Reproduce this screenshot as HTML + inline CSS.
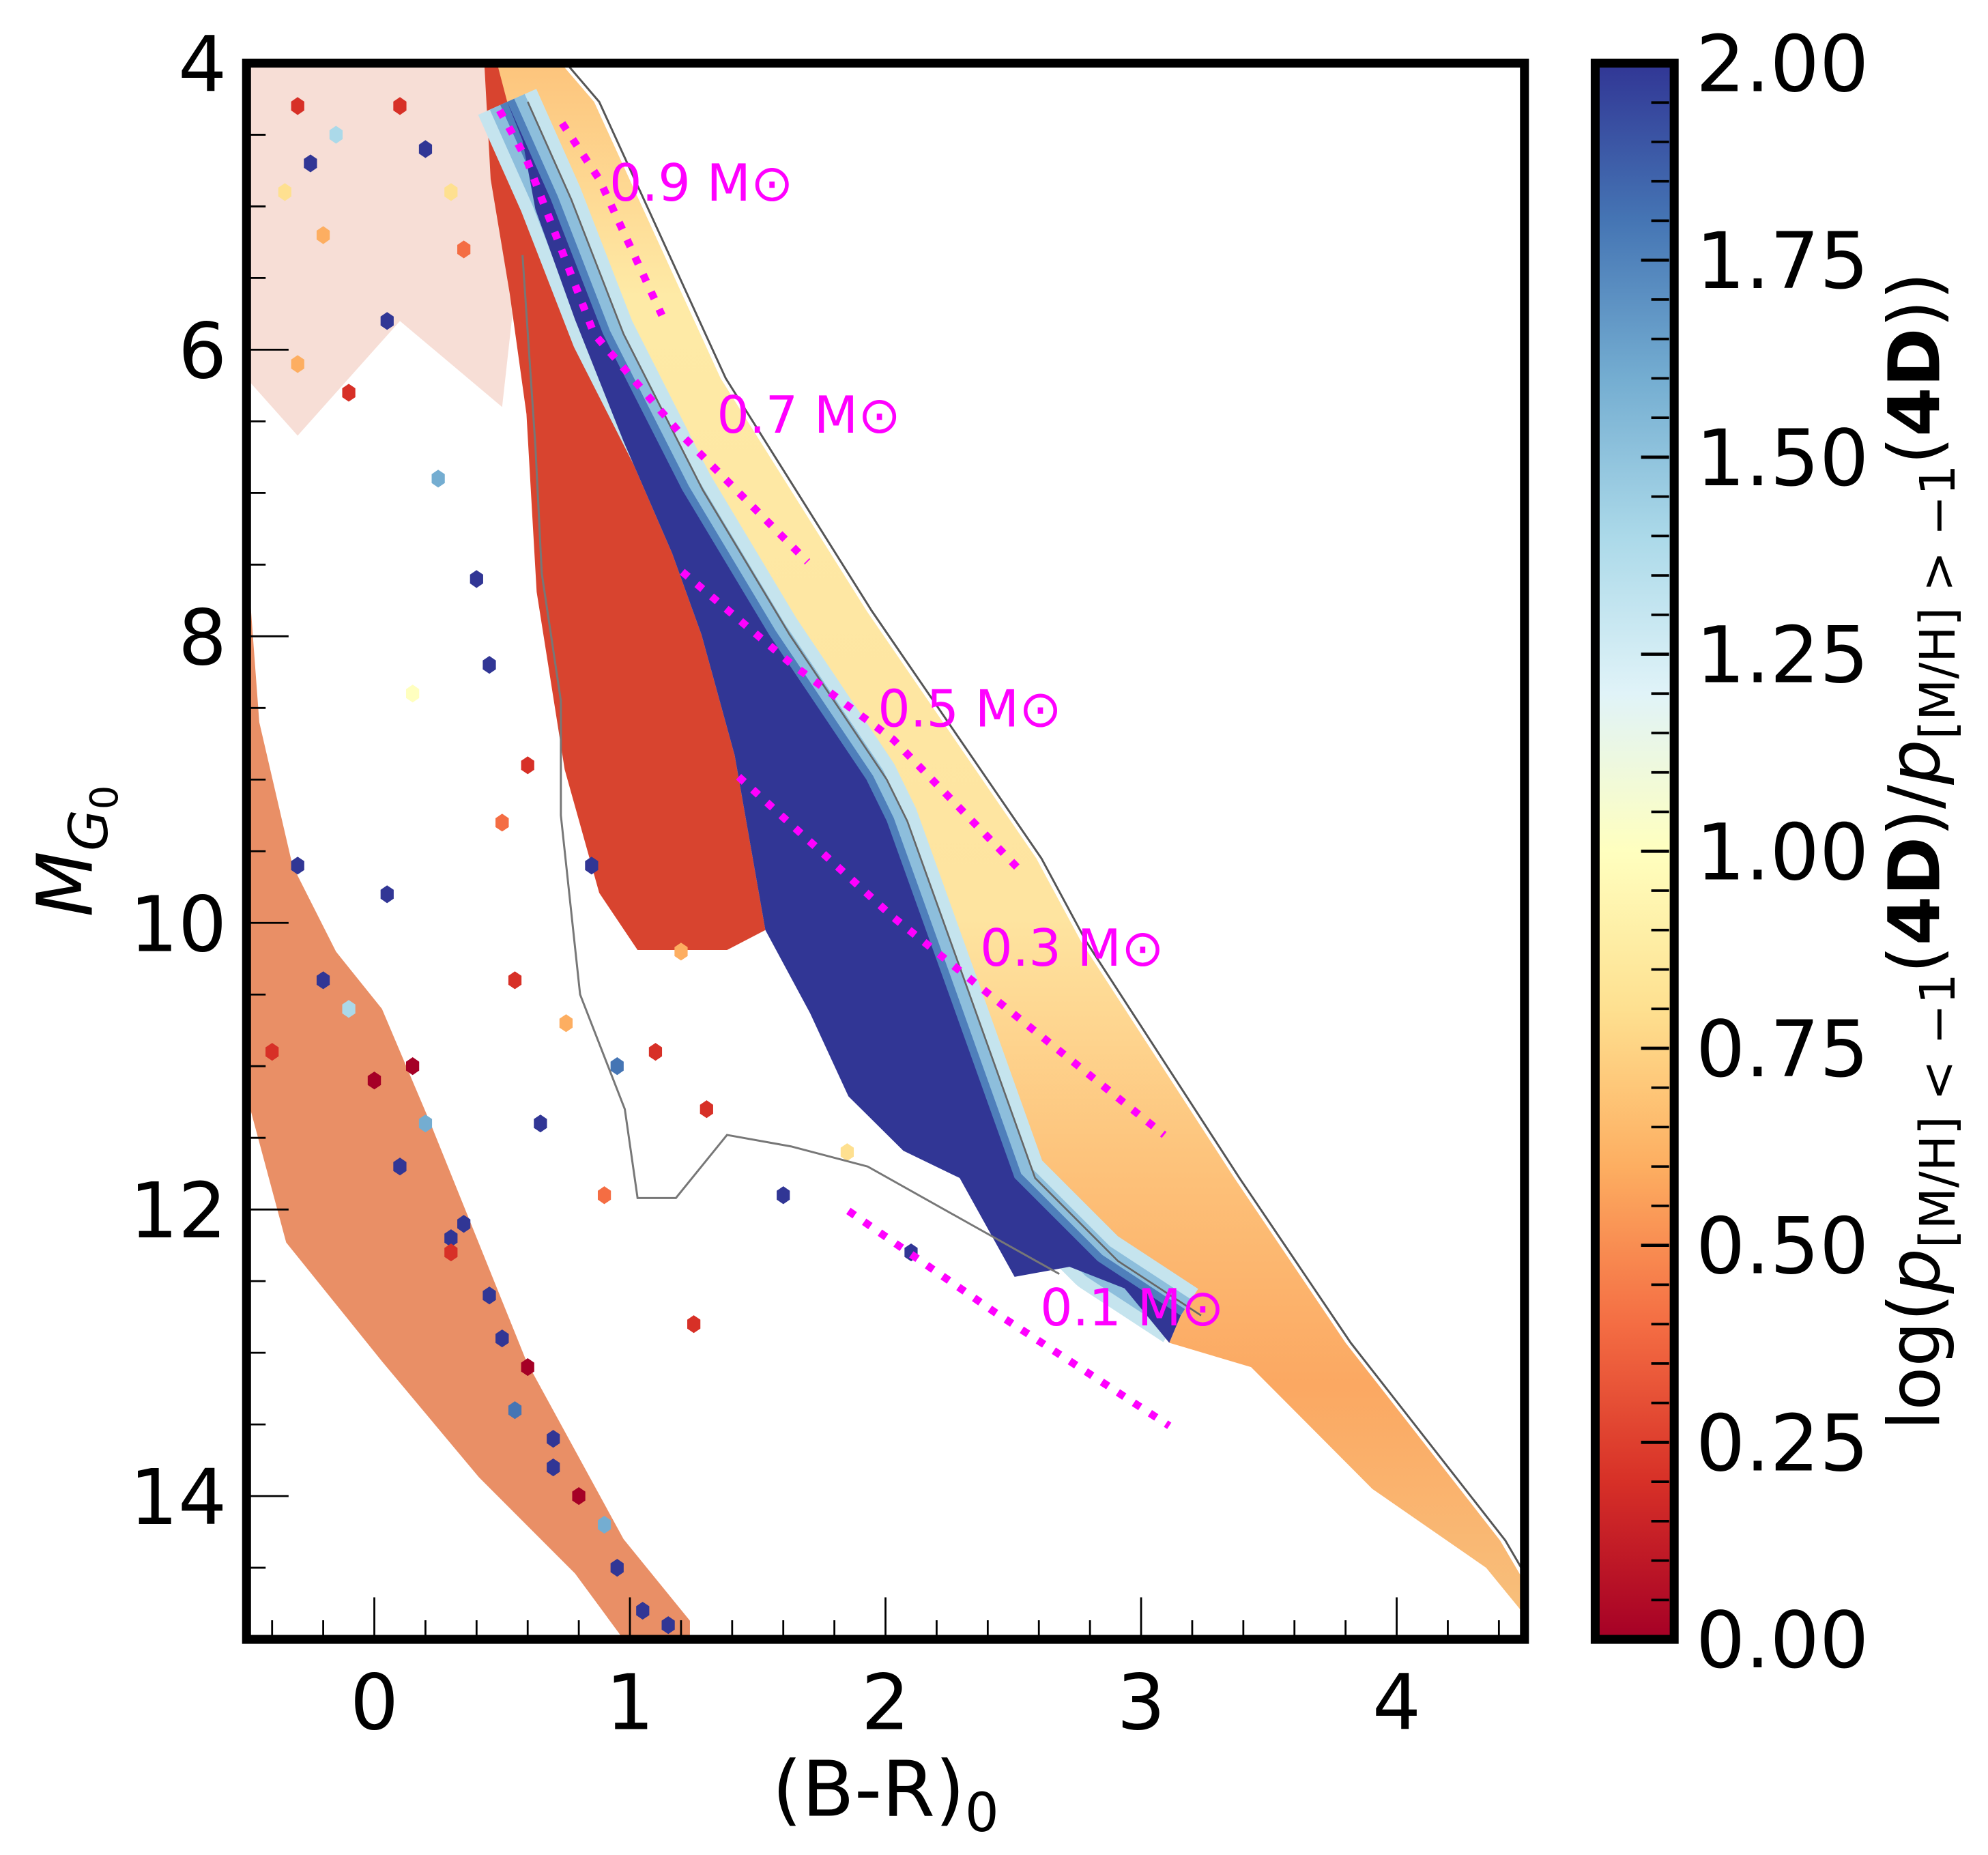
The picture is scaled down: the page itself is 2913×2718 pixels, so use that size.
<!DOCTYPE html>
<html><head><meta charset="utf-8"><style>
html,body{margin:0;padding:0;background:#fff}
svg{display:block}
text{font-family:"DejaVu Sans","Liberation Sans",sans-serif}
</style></head><body>
<svg id="chart" xmlns="http://www.w3.org/2000/svg" width="2913" height="2718" viewBox="0 0 1560.3 1455.8">
<defs>
<linearGradient id="cbgrad" x1="0" y1="1" x2="0" y2="0">
<stop offset="0" stop-color="#a50026"/><stop offset="0.1" stop-color="#d73027"/><stop offset="0.2" stop-color="#f46d43"/><stop offset="0.3" stop-color="#fdae61"/><stop offset="0.4" stop-color="#fee090"/><stop offset="0.5" stop-color="#ffffbf"/><stop offset="0.6" stop-color="#e0f3f8"/><stop offset="0.7" stop-color="#abd9e9"/><stop offset="0.8" stop-color="#74add1"/><stop offset="0.9" stop-color="#4575b4"/><stop offset="1" stop-color="#313695"/>
</linearGradient>
<linearGradient id="msgrad" x1="0" y1="0" x2="0" y2="1">
<stop offset="0" stop-color="#fdc47c"/><stop offset="0.15" stop-color="#feeaa6"/><stop offset="0.55" stop-color="#fee4a0"/><stop offset="0.72" stop-color="#fdc078"/><stop offset="0.85" stop-color="#fba862"/><stop offset="1" stop-color="#f8c07c"/>
</linearGradient>
<clipPath id="plotclip"><rect x="193.5" y="49.5" width="1003" height="1237"/></clipPath>
</defs>
<g id="plot" clip-path="url(#plotclip)"></g>
<g id="axes"></g>
<g id="cbar"></g>
<text x="695" y="1425" font-size="60" text-anchor="middle">(B-R)<tspan font-size="42" dy="12">0</tspan></text>
<text transform="translate(72,668) rotate(-90)" font-size="60" text-anchor="middle" font-style="italic">M<tspan font-size="42" dy="12">G</tspan><tspan font-size="30" dy="8" font-style="normal">0</tspan></text>
<text transform="translate(1522,668) rotate(-90)" font-size="56" text-anchor="middle">log(<tspan font-style="italic">p</tspan><tspan font-size="38" dy="12">[M/H] &lt; −1</tspan><tspan dy="-12">(</tspan><tspan font-weight="bold">4D</tspan>)/<tspan font-style="italic">p</tspan><tspan font-size="38" dy="12">[M/H] &gt; −1</tspan><tspan dy="-12">(</tspan><tspan font-weight="bold">4D</tspan>))</text>
</svg>
<script>
// ---- data (color (B-R)0, magnitude M_G0) ----
const msEnvelope = [[0.73,4.0],[0.86,4.27],[1.355,6.2],[1.925,7.82],[2.59,9.55],[2.765,10.13],[3.365,11.78],[3.8,12.93],[4.405,14.31],[4.51,14.63],[4.51,14.85],[4.35,14.5],[3.905,13.95],[3.43,13.1],[3.11,12.93],[3.155,12.74],[2.83,12.36],[2.505,11.78],[2.245,10.48],[2.005,9.29],[1.925,9.0],[1.545,7.99],[1.205,6.98],[0.895,5.89],[0.69,4.95],[0.52,4.27],[0.48,4.0]];
const blueRight = [[3.155,12.74],[2.83,12.36],[2.505,11.78],[2.245,10.48],[2.005,9.29],[1.925,9.0],[1.545,7.99],[1.205,6.98],[0.895,5.89],[0.69,4.95],[0.52,4.27]];
const blueLeft = [[0.58,4.54],[0.63,5.02],[0.785,5.79],[0.975,6.64],[1.165,7.42],[1.28,7.99],[1.41,8.83],[1.53,10.05],[1.705,10.63],[1.855,11.21],[2.07,11.59],[2.29,11.78],[2.505,12.47],[2.72,12.4],[2.935,12.55],[3.11,12.93]];
const redRegion = [[0.43,4.0],[0.505,4.0],[0.58,4.54],[0.63,5.02],[0.785,5.79],[0.975,6.64],[1.165,7.42],[1.28,7.99],[1.41,8.83],[1.53,10.05],[1.38,10.19],[1.03,10.19],[0.88,9.79],[0.745,8.93],[0.635,7.69],[0.595,6.45],[0.53,5.61],[0.455,4.81]];
const topLeftCloud = [[-0.5,4.0],[0.45,4.0],[0.55,5.6],[0.5,6.4],[0.1,5.8],[-0.3,6.6],[-0.5,6.2]];
const wdBand = [[-0.5,7.4],[-0.45,8.6],[-0.32,9.6],[-0.15,10.2],[0.03,10.6],[0.22,11.4],[0.595,13.06],[0.975,14.3],[1.235,14.87],[1.235,15.0],[0.975,15.0],[0.785,14.54],[0.41,13.87],[0.03,13.06],[-0.345,12.23],[-0.485,11.3],[-0.5,11.3]];
const contourLeft = [[0.58,5.34],[0.63,6.67],[0.655,7.56],[0.73,8.45],[0.73,9.25],[0.805,10.5],[0.98,11.3],[1.005,11.61],[1.03,11.92],[1.18,11.92],[1.38,11.48],[1.63,11.56],[1.93,11.7],[2.33,12.1],[2.68,12.45]];
const trackNames = ["0.9","0.7","0.5","0.3","0.1"];
const tracks = [
 [[0.735,4.42],[0.88,4.81],[1.125,5.76]],
 [[0.49,4.33],[0.595,4.67],[0.86,5.89],[1.205,6.6],[1.695,7.48]],
 [[1.205,7.55],[1.63,8.19],[2.03,8.72],[2.525,9.63]],
 [[1.425,8.98],[2.03,9.96],[3.09,11.48]],
 [[1.855,12.01],[2.43,12.72],[3.11,13.51]]];
const trackLabelPos = [[0.92,4.96],[1.34,6.58],[1.97,8.63],[2.37,10.3],[2.605,12.81]];
// scattered hexbins: color, magnitude, colour value
const scatterX = [-0.3,-0.25,-0.2,-0.15,0.1,0.2,0.3,0.35,0.05,-0.1,0.25,0.4,-0.3,0.15,0.45,0.6,0.85,0.5,0.05,-0.35,0.55,0.75,0.95,1.1,0.65,0.9,0.3,1.3,1.25,1.6,1.85,2.1,1.2,0.7];
const scatterY = [4.3,4.7,5.2,4.5,4.3,4.6,4.9,5.3,5.8,6.3,6.9,7.6,6.1,8.4,8.2,8.9,9.6,9.3,9.8,4.9,10.4,10.7,11.0,10.9,11.4,11.9,12.2,11.3,12.8,11.9,11.6,12.3,10.2,13.6];
const scatterV = [0.1,1.9,0.6,1.4,0.1,2.0,0.7,0.3,1.9,0.1,1.6,2.0,0.5,1.0,1.9,0.1,2.0,0.4,1.9,0.8,0.1,0.6,1.8,0.1,1.9,0.3,2.0,0.1,0.1,2.0,0.7,2.0,0.5,1.9];
const wdSpeckX = [-0.3,-0.2,0.0,0.1,0.2,0.3,0.45,0.55,0.7,0.8,0.95,1.05,-0.4,-0.1,0.35,0.6,0.9,1.15,0.15,0.5];
const wdSpeckY = [9.6,10.4,11.1,11.7,11.4,12.3,12.6,13.4,13.8,14.0,14.5,14.8,10.9,10.6,12.1,13.1,14.2,14.9,11.0,12.9];
const wdSpeckV = [2.0,1.9,0.0,2.0,1.5,0.1,2.0,1.7,2.0,0.0,1.9,2.0,0.1,1.3,1.9,0.0,1.6,2.0,0.0,1.9];
const xTicks = [0,1,2,3,4];
const yTicks = [4,6,8,10,12,14];
const cbTicks = ["0.00","0.25","0.50","0.75","1.00","1.25","1.50","1.75","2.00"];

// ---- scales ----
const X0=193.5, X1=1196.5, Y0=49.5, Y1=1286.6;
const xmin=-0.5,xmax=4.5,ymin=4,ymax=15;
function sx(v){return X0+(v-xmin)/(xmax-xmin)*(X1-X0);}
function sy(v){return Y0+(v-ymin)/(ymax-ymin)*(Y1-Y0);}
const CB0=49.5, CB1=1286.6;
function cy(v){return CB1-(v/2)*(CB1-CB0);}
const NS="http://www.w3.org/2000/svg";
function mk(tag,attrs,parent){const e=document.createElementNS(NS,tag);for(const k in attrs)e.setAttribute(k,attrs[k]);parent.appendChild(e);return e;}
function pts(a){return a.map(p=>sx(p[0]).toFixed(1)+","+sy(p[1]).toFixed(1)).join(" ");}
const cmap=["#a50026","#d73027","#f46d43","#fdae61","#fee090","#ffffbf","#e0f3f8","#abd9e9","#74add1","#4575b4","#313695"];
function col(v){let t=Math.max(0,Math.min(1,v/2))*10;return cmap[Math.round(t)];}
function hex(cx,cyy,r){let s=[];for(let i=0;i<6;i++){const a=Math.PI/6+i*Math.PI/3;s.push((cx+r*0.85*Math.cos(a)).toFixed(1)+","+(cyy+r*Math.sin(a)).toFixed(1));}return s.join(" ");}

const plot=document.getElementById('plot');
let e;
e=mk('polygon',{points:pts(topLeftCloud),fill:"#e4876a","fill-opacity":0.28},plot);


e=mk('polygon',{points:pts(wdBand),fill:"#e98f66"},plot);


e=mk('polygon',{points:pts(redRegion),fill:"#d8442f"},plot);


e=mk('polygon',{points:pts(msEnvelope),fill:"url(#msgrad)"},plot);


e=mk('polyline',{points:pts(blueRight),fill:"none",stroke:"#c5e4ee","stroke-width":50,"stroke-linejoin":"round"},plot);


e=mk('polyline',{points:pts(blueRight),fill:"none",stroke:"#8dbedc","stroke-width":30,"stroke-linejoin":"round"},plot);


e=mk('polyline',{points:pts(blueRight),fill:"none",stroke:"#4f7fbb","stroke-width":12,"stroke-linejoin":"round"},plot);


e=mk('polygon',{points:pts(blueLeft.concat(blueRight)),fill:"#313695"},plot);


for(let i=0;i<scatterX.length;i++){
  e=mk('polygon',{points:hex(sx(scatterX[i]),sy(scatterY[i]),7),fill:col(scatterV[i])},plot);
  
  
}
for(let i=0;i<wdSpeckX.length;i++){
  e=mk('polygon',{points:hex(sx(wdSpeckX[i]),sy(wdSpeckY[i]),7),fill:col(wdSpeckV[i])},plot);
  
  
}
// contours
e=mk('polyline',{points:pts(msEnvelope.slice(0,10).map(p=>[p[0]+0.02,p[1]])),fill:"none",stroke:"#555","stroke-width":1.6},plot);


e=mk('polyline',{points:pts(contourLeft),fill:"none",stroke:"#777","stroke-width":1.6},plot);


e=mk('polyline',{points:pts(blueRight.map(p=>[p[0]+0.08,p[1]])),fill:"none",stroke:"#666","stroke-width":1.4},plot);


// tracks
for(let i=0;i<tracks.length;i++){
  e=mk('polyline',{points:pts(tracks[i]),fill:"none",stroke:"#ff00ff","stroke-width":6,"stroke-dasharray":"6 9"},plot);
  
  
  e=mk('text',{x:sx(trackLabelPos[i][0]),y:sy(trackLabelPos[i][1]),"font-size":40,fill:"#ff00ff"},plot);
  e.textContent=trackNames[i]+" M\u2299";
  
  
}
// axes
const ax=document.getElementById('axes');
for(let v=-0.4;v<=4.41;v+=0.2){const isMaj=Math.abs(v-Math.round(v))<0.01;
  e=mk('line',{x1:sx(v),x2:sx(v),y1:Y1,y2:Y1-(isMaj?33:15),stroke:"#000","stroke-width":1.5},ax);
  
  }
for(let v=4.5;v<15;v+=0.5){const isMaj=Math.abs(v-Math.round(v))<0.01&&Math.round(v)%2===0;
  e=mk('line',{x1:X0,x2:X0+(isMaj?33:15),y1:sy(v),y2:sy(v),stroke:"#000","stroke-width":1.5},ax);
  
  }
xTicks.forEach(v=>{e=mk('text',{x:sx(v),y:1357,"font-size":60,"text-anchor":"middle"},ax);e.textContent=v;
  
  });
yTicks.forEach(v=>{e=mk('text',{x:178,y:sy(v)+22,"font-size":60,"text-anchor":"end"},ax);e.textContent=v;
  
  });
e=mk('rect',{x:X0,y:Y0,width:X1-X0,height:Y1-Y0,fill:"none",stroke:"#000","stroke-width":7},ax);


// colorbar
const cb=document.getElementById('cbar');
e=mk('rect',{x:1252,y:CB0,width:62,height:CB1-CB0,fill:"url(#cbgrad)",stroke:"#000","stroke-width":7},cb);


for(let k=1;k<40;k++){const v=k*0.05;const maj=k%5===0;
  e=mk('line',{x1:1310,x2:1310-(maj?22:14),y1:cy(v),y2:cy(v),stroke:"#000","stroke-width":maj?2.5:2},cb);
  
  }
cbTicks.forEach((t,i)=>{e=mk('text',{x:1331,y:cy(parseFloat(t))+22,"font-size":61},cb);e.textContent=t;
  
  });
</script>
</body></html>
